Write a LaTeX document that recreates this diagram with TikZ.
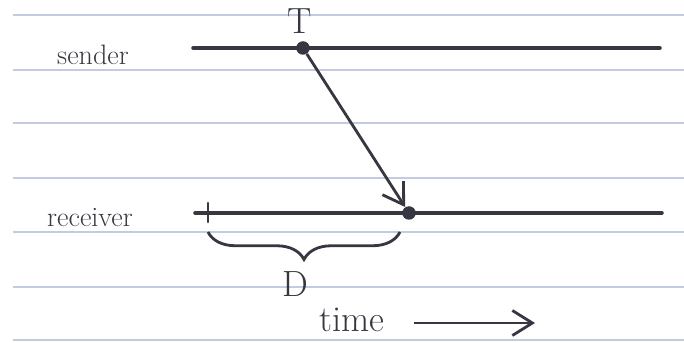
\documentclass[tikz,border=0pt]{standalone}
\usepackage{tikz}
\usetikzlibrary{arrows.meta,positioning,decorations.pathreplacing}
\usepackage{xcolor}
\definecolor{paperline}{RGB}{196,202,224}
\definecolor{penink}{RGB}{55,55,65}

\begin{document}
\begin{tikzpicture}[
    rule/.style={draw=paperline, line width=0.8pt},
    timeline/.style={draw=penink, line width=2pt, line cap=round},
    event/.style={circle, fill=penink, inner sep=0pt, minimum size=0.27cm},
    msg/.style={draw=penink, line width=1.6pt, -{Straight Barb[length=0.4cm,width=0.5cm,line width=1.6pt]}},
    lbl/.style={text=penink, font=\fontsize{16}{19}\selectfont}
]
\useasboundingbox (0,0) rectangle (13.68,6.84);

% ruled paper
\foreach \y in {6.54,5.44,4.38,3.28,2.2,1.1,0.04}
    \draw[rule] (0.26,\y) -- (13.68,\y);

% the two time lines
\node[lbl] (sender) at (1.86,5.74) {sender};
\node[lbl] (receiver) at (1.8,2.48) {receiver};
\coordinate (sstart) at (3.86,5.88);
\coordinate (sstop) at (13.2,5.88);
\coordinate (rstart) at (3.9,2.58);
\coordinate (rstop) at (13.24,2.58);
\draw[timeline] (sstart) -- (sstop);
\draw[timeline] (rstart) -- (rstop);

% tick where D starts
\coordinate (ticktop) at (4.16,2.78);
\coordinate (tickbot) at (4.16,2.4);
\draw[timeline, line width=1.5pt] (ticktop) -- (tickbot);

% send and receive events
\node[event] (send) at (6.06,5.88) {};
\node[event] (recv) at (8.18,2.58) {};
\node[text=penink, font=\huge] (tlabel) at (6.0,6.42) {T};
\draw[msg] (send) -- (recv);

% delay brace
\coordinate (bstart) at (4.16,2.2);
\coordinate (bstop) at (8.0,2.2);
\draw[draw=penink, line width=1.6pt, decorate,
      decoration={brace, mirror, amplitude=0.55cm}] (bstart) -- (bstop);
\node[text=penink, font=\huge] (dlabel) at (5.9,1.16) {D};

% time direction
\node[text=penink, font=\huge] (time) at (7.04,0.44) {time};
\coordinate (tarrow) at (8.28,0.38);
\coordinate (tarrowend) at (10.7,0.38);
\draw[msg, line width=1.3pt] (tarrow) -- (tarrowend);

\end{tikzpicture}
\end{document}
